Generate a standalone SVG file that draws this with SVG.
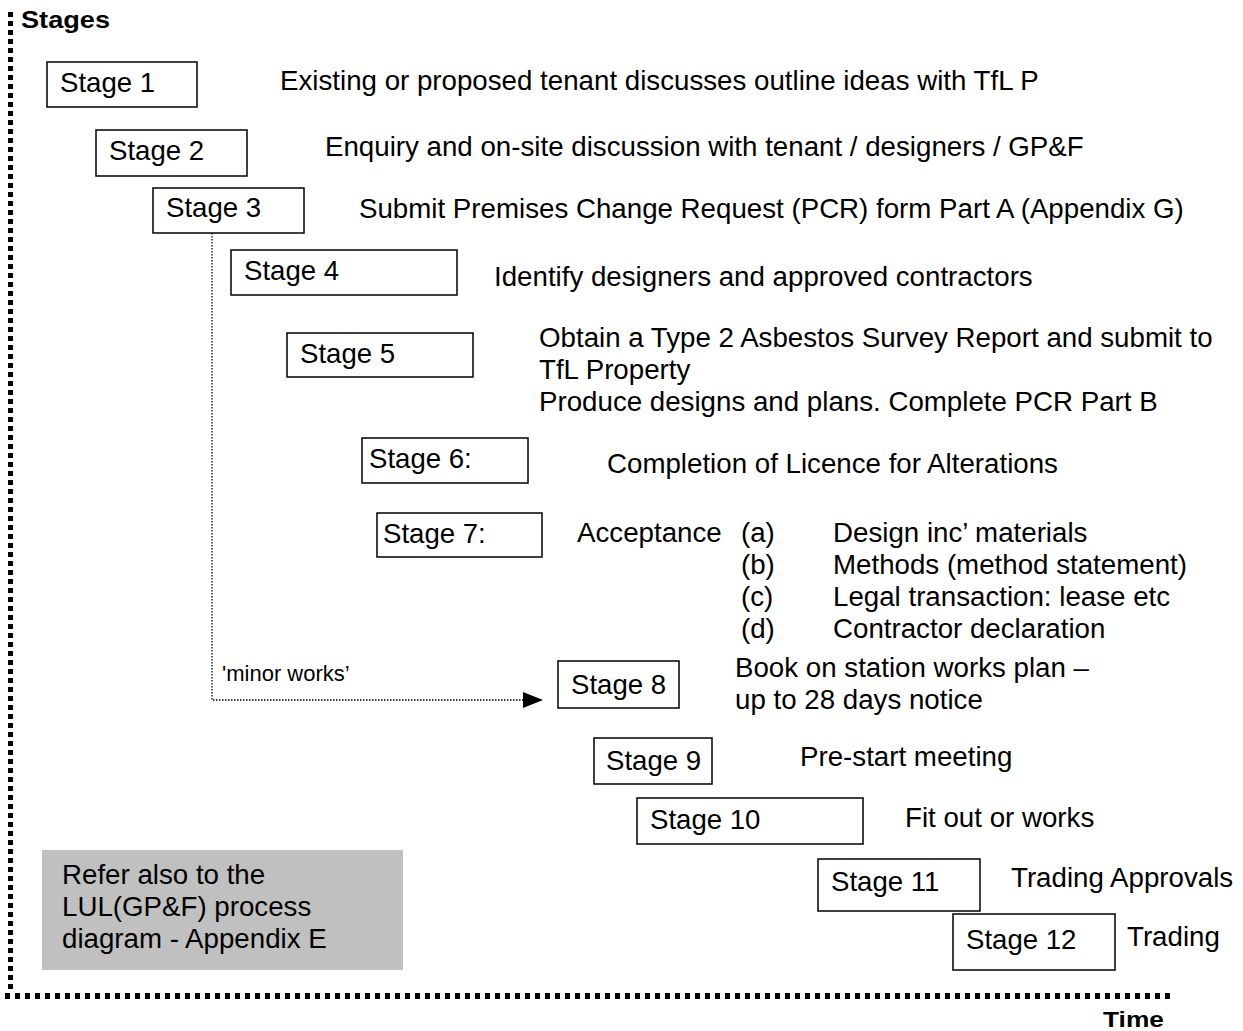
<svg xmlns="http://www.w3.org/2000/svg" width="1243" height="1031" viewBox="0 0 1243 1031">
<defs>
<style>
text{font-family:"Liberation Sans",Arial,sans-serif;fill:#000;}
.t{font-size:27.7px;}
.s{font-size:27.6px;}
.b{font-weight:bold;}
.box{fill:#fff;stroke:#000;stroke-width:1.5;}
.axis{fill:none;stroke:#000;}
.conn{fill:none;stroke:#000;stroke-width:1.3;stroke-dasharray:1.5 1.5;}
</style>
<marker id="arr" viewBox="0 0 20 16" refX="0" refY="8" markerWidth="20" markerHeight="16" markerUnits="userSpaceOnUse" orient="auto">
<path d="M0,0 L20,8 L0,16 Z" fill="#000"/>
</marker>
</defs>
<rect width="1243" height="1031" fill="#fff"/>
<g id="axes">
<line class="axis" x1="10.5" y1="12" x2="10.5" y2="992" stroke-width="5" stroke-dasharray="5 4"/>
<line class="axis" x1="5" y1="996" x2="1170" y2="996" stroke-width="6" stroke-dasharray="5 5"/>
<text class="b" x="21" y="28" font-size="24" textLength="89" lengthAdjust="spacingAndGlyphs">Stages</text>
<text class="b" x="1103" y="1027" font-size="22" textLength="61" lengthAdjust="spacingAndGlyphs">Time</text>
</g>
<g id="connectors">
<polyline class="conn" points="212,233 212,700 523,700" marker-end="url(#arr)"/>
<text x="222" y="681" font-size="22">'minor works’</text>
</g>
<g id="stage1">
<rect class="box" x="47" y="62" width="150" height="45"/>
<text class="s" x="60" y="92">Stage 1</text>
<text class="t" x="280" y="90">Existing or proposed tenant discusses outline ideas with TfL P</text>
</g>
<g id="stage2">
<rect class="box" x="96" y="130" width="151" height="46"/>
<text class="s" x="109" y="160">Stage 2</text>
<text class="t" x="325" y="156">Enquiry and on-site discussion with tenant / designers / GP&amp;F</text>
</g>
<g id="stage3">
<rect class="box" x="153" y="188" width="151" height="45"/>
<text class="s" x="166" y="217">Stage 3</text>
<text class="t" x="359" y="218">Submit Premises Change Request (PCR) form Part A (Appendix G)</text>
</g>
<g id="stage4">
<rect class="box" x="231" y="250" width="226" height="45"/>
<text class="s" x="244" y="280">Stage 4</text>
<text class="t" x="494" y="286">Identify designers and approved contractors</text>
</g>
<g id="stage5">
<rect class="box" x="287" y="333" width="186" height="44"/>
<text class="s" x="300" y="363">Stage 5</text>
<text class="t" x="539" y="347">Obtain a Type 2 Asbestos Survey Report and submit to</text>
<text class="t" x="539" y="379">TfL Property</text>
<text class="t" x="539" y="411">Produce designs and plans. Complete PCR Part B</text>
</g>
<g id="stage6">
<rect class="box" x="362" y="438" width="166" height="45"/>
<text class="s" x="369" y="468">Stage 6:</text>
<text class="t" x="607" y="473">Completion of Licence for Alterations</text>
</g>
<g id="stage7">
<rect class="box" x="377" y="513" width="165" height="44"/>
<text class="s" x="383" y="543">Stage 7:</text>
<text class="t" x="577" y="542">Acceptance</text>
<text class="t" x="741" y="542">(a)</text>
<text class="t" x="741" y="574">(b)</text>
<text class="t" x="741" y="606">(c)</text>
<text class="t" x="741" y="638">(d)</text>
<text class="t" x="833" y="542">Design inc’ materials</text>
<text class="t" x="833" y="574">Methods (method statement)</text>
<text class="t" x="833" y="606">Legal transaction: lease etc</text>
<text class="t" x="833" y="638">Contractor declaration</text>
</g>
<g id="stage8">
<rect class="box" x="558" y="661" width="121" height="47"/>
<text class="s" x="571" y="694">Stage 8</text>
<text class="t" x="735" y="677">Book on station works plan –</text>
<text class="t" x="735" y="709">up to 28 days notice</text>
</g>
<g id="stage9">
<rect class="box" x="594" y="738" width="118" height="46"/>
<text class="s" x="606" y="770">Stage 9</text>
<text class="t" x="800" y="766">Pre-start meeting</text>
</g>
<g id="stage10">
<rect class="box" x="637" y="798" width="226" height="46"/>
<text class="s" x="650" y="829">Stage 10</text>
<text class="t" x="905" y="827">Fit out or works</text>
</g>
<g id="stage11">
<rect class="box" x="818" y="859" width="162" height="52"/>
<text class="s" x="831" y="891">Stage 11</text>
<text class="t" x="1011" y="887">Trading Approvals</text>
</g>
<g id="stage12">
<rect class="box" x="953" y="914" width="162" height="56"/>
<text class="s" x="966" y="949">Stage 12</text>
<text class="t" x="1127" y="946">Trading</text>
</g>
<g id="note">
<rect x="42" y="850" width="361" height="120" fill="#c0c0c0"/>
<text class="t" x="62" y="884">Refer also to the</text>
<text class="t" x="62" y="916">LUL(GP&amp;F) process</text>
<text class="t" x="62" y="948">diagram - Appendix E</text>
</g>
</svg>
